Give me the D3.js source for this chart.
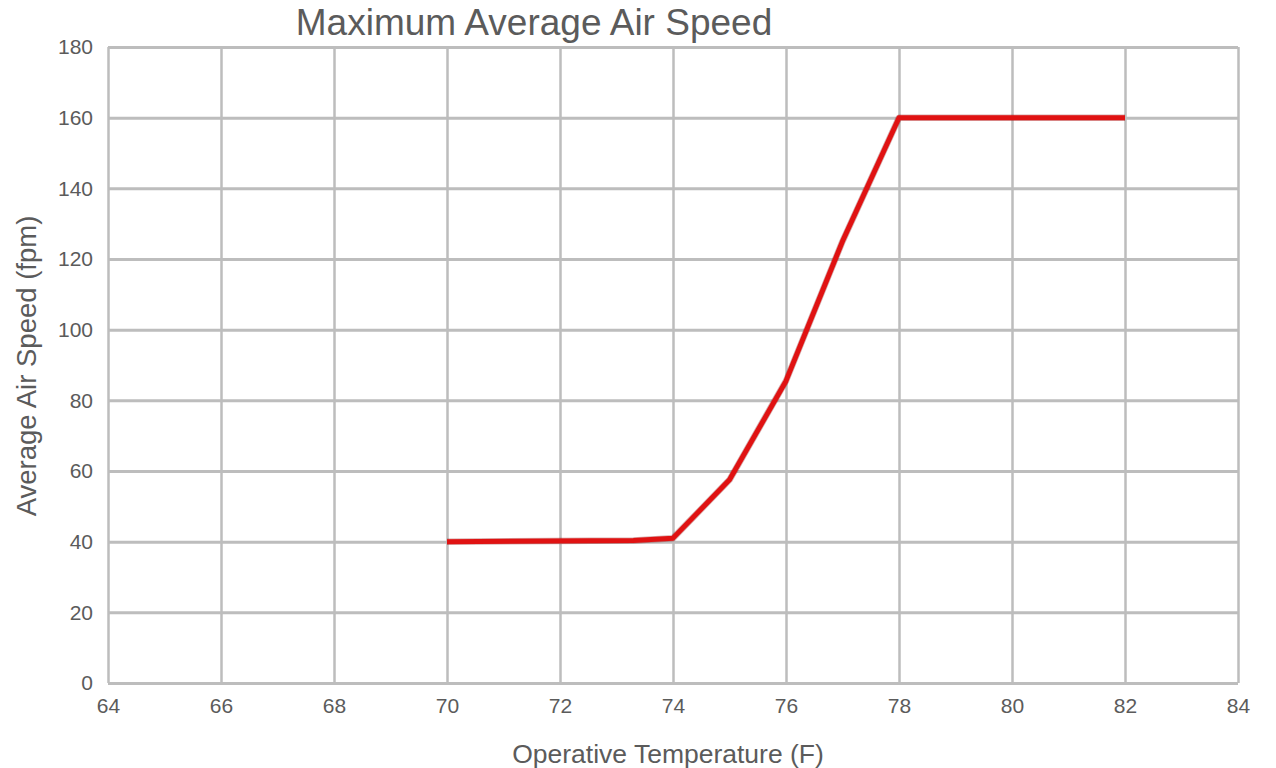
<!DOCTYPE html>
<html>
<head>
<meta charset="utf-8">
<script src="https://cdn.jsdelivr.net/npm/d3@7"></script>
<style>
  body { margin: 0; background: #fff; }
  svg { display: block; font-family: "Liberation Sans", Arial, sans-serif; }
</style>
</head>
<body>
<div id="chart"></div>
<script>
// Data
var temps  = [70, 73.3, 74, 75, 76, 77, 78, 81, 82];
var speeds = [40, 40.3, 41, 57.5, 85.5, 125, 160, 160, 160];
var xTicks = [64, 66, 68, 70, 72, 74, 76, 78, 80, 82, 84];
var yTicks = [0, 20, 40, 60, 80, 100, 120, 140, 160, 180];

var W = 1276, H = 768;
var margin = { top: 47, right: 38, bottom: 85, left: 108 },
    width = W - margin.left - margin.right,
    height = H - margin.top - margin.bottom;

var x = d3.scaleLinear().domain([64, 84]).range([0, width]),
    y = d3.scaleLinear().domain([0, 180]).range([height, 0]);

var svg = d3.select("#chart")
  .append("svg")
    .attr("width", W)
    .attr("height", H)
  .append("g")
    .attr("transform", "translate(" + margin.left + "," + margin.top + ")");

var gridColor = "#bdbdbd", textColor = "#5b5b5b";

// vertical grid + x labels
var xAxis = svg.append("g")
  .attr("transform", "translate(0," + height + ")")
  .call(d3.axisBottom(x).tickValues(xTicks).tickSize(-height).tickSizeOuter(0).tickPadding(26));
xAxis.select(".domain").remove();
xAxis.selectAll(".tick line").attr("stroke", gridColor).attr("stroke-width", 2.5);
xAxis.selectAll(".tick text")
  .attr("fill", textColor)
  .attr("font-size", "21px")
  .attr("font-family", "'Liberation Sans', Arial, sans-serif")
  .attr("dy", "0.2em");

// horizontal grid + y labels
var yAxis = svg.append("g")
  .call(d3.axisLeft(y).tickValues(yTicks).tickSize(-width).tickSizeOuter(0).tickPadding(15));
yAxis.select(".domain").remove();
yAxis.selectAll(".tick line").attr("stroke", gridColor).attr("stroke-width", 3);
yAxis.selectAll(".tick text")
  .attr("fill", textColor)
  .attr("font-size", "21px")
  .attr("font-family", "'Liberation Sans', Arial, sans-serif");

// the curve
var line = d3.line()
  .x(function(d, i) { return x(temps[i]); })
  .y(function(d) { return y(d); });

svg.append("path")
  .datum(speeds)
  .attr("d", line)
  .attr("fill", "none")
  .attr("stroke", "#8a1010")
  .attr("stroke-opacity", 0.35)
  .attr("stroke-width", 6.5)
  .attr("stroke-linejoin", "round");

svg.append("path")
  .datum(speeds)
  .attr("d", line)
  .attr("fill", "none")
  .attr("stroke", "#e01212")
  .attr("stroke-width", 5)
  .attr("stroke-linejoin", "round");

var root = d3.select("svg");

// title
root.append("text")
  .attr("x", 534)
  .attr("y", 35)
  .attr("text-anchor", "middle")
  .attr("fill", textColor)
  .attr("font-size", "37px")
  .text("Maximum Average Air Speed");

// x axis title
root.append("text")
  .attr("x", 668)
  .attr("y", 763)
  .attr("text-anchor", "middle")
  .attr("fill", textColor)
  .attr("font-size", "26.5px")
  .text("Operative Temperature (F)");

// y axis title
root.append("text")
  .attr("transform", "translate(36,366) rotate(-90)")
  .attr("text-anchor", "middle")
  .attr("fill", textColor)
  .attr("font-size", "27.5px")
  .text("Average Air Speed (fpm)");
</script>
</body>
</html>
